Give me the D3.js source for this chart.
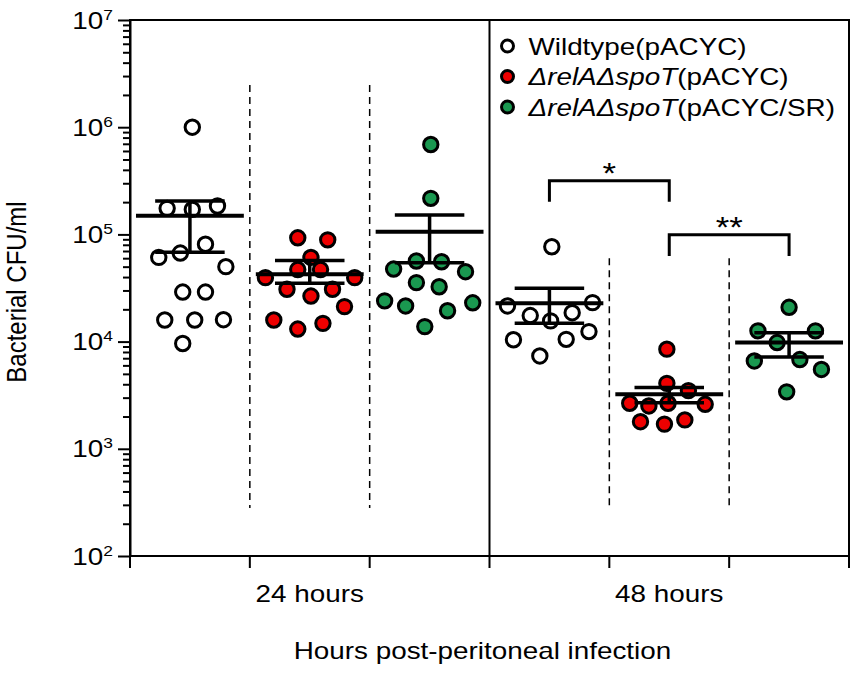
<!DOCTYPE html>
<html lang="en">
<head>
<meta charset="UTF-8">
<title>Bacterial CFU per group</title>
<script src="https://d3js.org/d3.v7.min.js"></script>
<style>
    body { margin: 0; background: #fff; }
    text { font-family: Arial, "Liberation Sans", sans-serif; fill: #000; }
</style>
</head>
<body>
<script>
    // groups along the x axis, two time points x three strains
    var groups = ["WT24", "DKO24", "SR24", "WT48", "DKO48", "SR48"];
    var timepoints = ["24 hours", "48 hours"];
    var groupStrain = [0, 1, 2, 0, 1, 2];
    var strainFill = ["#ffffff", "#ee0000", "#1a9850"];

    // legend labels, split in [text, italic] pieces
    var legendLabels = [
        [["Wildtype(pACYC)", false]],
        [["\u0394relA\u0394spoT", true], ["(pACYC)", false]],
        [["\u0394relA\u0394spoT", true], ["(pACYC/SR)", false]]
    ];

    // CFU/ml per animal; jitter = offset inside the group, as a share of its width
    var wt24 = [1.0e6, 1.75e5, 1.71e5, 1.84e5, 8.1e4, 6.1e4, 6.7e4, 5.0e4, 2.9e4, 2.9e4, 1.59e4, 1.59e4, 1.6e4, 9.6e3];
    var wt24Jitter = [0.02, -0.19, 0.02, 0.23, 0.13, -0.26, -0.08, 0.30, -0.06, 0.13, -0.21, 0.04, 0.28, -0.06];
    var dko24 = [9.3e4, 8.9e4, 6.1e4, 4.7e4, 4.7e4, 3.95e4, 3.95e4, 3.08e4, 3.08e4, 2.66e4, 2.12e4, 1.59e4, 1.48e4, 1.31e4];
    var dko24Jitter = [-0.10, 0.15, 0.01, -0.10, 0.09, -0.37, 0.375, -0.19, 0.19, 0.01, 0.29, -0.30, 0.11, -0.10];
    var sr24 = [6.9e5, 2.17e5, 5.65e4, 5.56e4, 4.75e4, 4.49e4, 3.55e4, 3.25e4, 2.4e4, 2.15e4, 2.3e4, 1.94e4, 1.38e4];
    var sr24Jitter = [0.01, 0.01, -0.11, 0.10, -0.30, 0.30, -0.11, 0.08, -0.375, -0.20, 0.36, 0.15, -0.04];
    var wt48 = [7.67e4, 2.15e4, 2.31e4, 1.75e4, 1.56e4, 1.86e4, 1.24e4, 1.04e4, 1.05e4, 7.35e3];
    var wt48Jitter = [0.02, -0.35, 0.36, -0.16, 0.01, 0.19, 0.33, -0.30, 0.14, -0.08];
    var dko48 = [8.5e3, 4.08e3, 3.49e3, 2.66e3, 2.66e3, 2.6e3, 2.51e3, 1.79e3, 1.70e3, 1.86e3];
    var dko48Jitter = [-0.02, -0.02, 0.16, -0.33, -0.01, 0.30, -0.17, -0.24, -0.04, 0.13];
    var sr48 = [2.09e4, 1.26e4, 1.26e4, 9.8e3, 6.6e3, 6.8e3, 5.5e3, 3.4e3];
    var sr48Jitter = [0.00, -0.26, 0.22, -0.10, -0.29, 0.09, 0.27, -0.02];

    // mean and SEM bar ends, as drawn
    var means   = [1.49e5, 4.25e4, 1.06e5, 2.28e4, 3.22e3, 9.8e3];
    var semHigh = [2.05e5, 5.7e4, 1.52e5, 3.14e4, 3.74e3, 1.21e4];
    var semLow  = [6.8e4, 3.5e4, 5.45e4, 1.48e4, 2.69e3, 7.2e3];

    // significance brackets: from group, to group, bar level, leg end, label
    var sigFrom = ["WT48", "DKO48"];
    var sigTo = ["DKO48", "SR48"];
    var sigLevel = [3.17e5, 9.9e4];
    var sigLegEnd = [2.02e5, 6.3e4];
    var sigLabel = ["*", "**"];

    // dashed separators between strains: top and bottom, in CFU/ml
    var sepAfter = ["WT24", "DKO24", "WT48", "DKO48"];
    var sepTop = [2.48e6, 2.48e6, 6.0e4, 6.0e4];
    var sepBottom = 280;

    var majorTicks = [1e2, 1e3, 1e4, 1e5, 1e6, 1e7];

    var values = [wt24, dko24, sr24, wt48, dko48, sr48];
    var jitters = [wt24Jitter, dko24Jitter, sr24Jitter, wt48Jitter, dko48Jitter, sr48Jitter];

    var margin = {top: 20, right: 2, bottom: 120, left: 130},
        width = 851 - margin.left - margin.right,
        height = 676 - margin.top - margin.bottom;
    var stretch = 1.16; // the figure's lettering is a bit wide

    var svg = d3.select("body").append("svg")
        .attr("width", 851)
        .attr("height", 676)
        .append("g")
        .attr("transform", "translate(" + margin.left + "," + margin.top + ")");

    var x = d3.scaleBand().domain(groups).range([0, width]);
    var xt = d3.scaleBand().domain(timepoints).range([0, width]);
    var y = d3.scaleLog().domain([1e2, 1e7]).range([height, 0]);
    var bw = x.bandwidth();

    function wideText(sel, tx, ty, anchor) {
        return sel.append("text")
            .attr("transform", "translate(" + tx + "," + ty + ") scale(" + stretch + ",1)")
            .attr("text-anchor", anchor || "start");
    }

    // frame
    svg.append("rect")
        .attr("width", width).attr("height", height)
        .attr("fill", "none").attr("stroke", "#000").attr("stroke-width", 2);

    // solid line between the time points
    svg.append("line")
        .attr("x1", xt("48 hours")).attr("x2", xt("48 hours"))
        .attr("y1", 0).attr("y2", height)
        .attr("stroke", "#000").attr("stroke-width", 2);

    // dashed separators
    svg.selectAll(".sep")
        .data(sepAfter)
        .enter().append("line")
        .attr("x1", function(d) { return x(d) + bw; })
        .attr("x2", function(d) { return x(d) + bw; })
        .attr("y1", function(d, i) { return y(sepTop[i]); })
        .attr("y2", y(sepBottom))
        .attr("stroke", "#000").attr("stroke-width", 1.5)
        .attr("stroke-dasharray", "7,5");

    // y axis: minor ticks, then majors with 10^n labels
    var minorTicks = [];
    for (var e = 2; e < 7; e++) {
        for (var k = 2; k < 10; k++) minorTicks.push(k * Math.pow(10, e));
    }
    svg.append("g")
        .call(d3.axisLeft(y).tickValues(minorTicks).tickSize(7).tickSizeOuter(0).tickFormat(""))
        .call(function(g) { g.select(".domain").remove(); })
        .selectAll("line").attr("stroke-width", 2);

    var yAxis = svg.append("g")
        .call(d3.axisLeft(y).tickValues(majorTicks).tickSize(12).tickSizeOuter(0).tickFormat(""));
    yAxis.select(".domain").attr("stroke-width", 2);
    yAxis.selectAll(".tick line").attr("stroke-width", 2);
    yAxis.selectAll(".tick text").remove();
    yAxis.selectAll(".tick").each(function(d) {
        var t = wideText(d3.select(this), -17, 8, "end").style("font-size", "24px");
        t.append("tspan").text("10");
        t.append("tspan").attr("dy", -9).style("font-size", "15px").text(Math.round(Math.log10(d)));
    });

    // x axis: ticks at the group edges, labels under each time point
    var edges = groups.map(function(g) { return x(g); }).concat([width]);
    svg.append("g")
        .attr("transform", "translate(0," + height + ")")
        .selectAll("line")
        .data(edges)
        .enter().append("line")
        .attr("x1", function(d) { return d; }).attr("x2", function(d) { return d; })
        .attr("y1", 0).attr("y2", 12)
        .attr("stroke", "#000").attr("stroke-width", 2);

    var xAxis = svg.append("g")
        .attr("transform", "translate(0," + height + ")")
        .call(d3.axisBottom(xt).tickSize(0));
    xAxis.select(".domain").remove();
    xAxis.selectAll(".tick text").remove();
    xAxis.selectAll(".tick").each(function(d) {
        wideText(d3.select(this), 0, 46, "middle").style("font-size", "24px").text(d);
    });

    // axis titles
    wideText(svg, width / 2 - 7, height + 103, "middle")
        .style("font-size", "24px")
        .text("Hours post-peritoneal infection");

    svg.append("text")
        .attr("transform", "translate(" + (26 - margin.left) + "," + (height / 2 + 4) + ") scale(" + stretch + ",1) rotate(-90)")
        .attr("text-anchor", "middle")
        .style("font-size", "24px")
        .text("Bacterial CFU/ml");

    // points
    groups.forEach(function(g, gi) {
        svg.append("g").selectAll("circle")
            .data(values[gi])
            .enter().append("circle")
            .attr("cx", function(d, i) { return x(g) + bw / 2 + jitters[gi][i] * bw; })
            .attr("cy", function(d) { return y(d); })
            .attr("r", 7.2)
            .attr("fill", strainFill[groupStrain[gi]])
            .attr("stroke", "#000")
            .attr("stroke-width", 3);
    });

    // mean and SEM
    var stats = svg.append("g").attr("stroke", "#000");
    groups.forEach(function(g, gi) {
        var cx = x(g) + bw / 2;
        stats.append("line")
            .attr("x1", cx).attr("x2", cx)
            .attr("y1", y(semHigh[gi])).attr("y2", y(semLow[gi]))
            .attr("stroke-width", 3.5);
        [semHigh[gi], semLow[gi]].forEach(function(v) {
            stats.append("line")
                .attr("x1", cx - bw * 0.29).attr("x2", cx + bw * 0.29)
                .attr("y1", y(v)).attr("y2", y(v))
                .attr("stroke-width", 3.5);
        });
        stats.append("line")
            .attr("x1", cx - bw * 0.45).attr("x2", cx + bw * 0.45)
            .attr("y1", y(means[gi])).attr("y2", y(means[gi]))
            .attr("stroke-width", 4);
    });

    // significance brackets
    sigFrom.forEach(function(a, i) {
        var xa = x(a) + bw / 2, xb = x(sigTo[i]) + bw / 2;
        svg.append("path")
            .attr("d", "M" + xa + "," + y(sigLegEnd[i]) + "V" + y(sigLevel[i]) +
                       "H" + xb + "V" + y(sigLegEnd[i]))
            .attr("fill", "none").attr("stroke", "#000").attr("stroke-width", 3);
        wideText(svg, (xa + xb) / 2, y(sigLevel[i]) + 2, "middle")
            .style("font-size", "30px")
            .text(sigLabel[i]);
    });

    // legend
    var legend = svg.append("g")
        .attr("transform", "translate(" + (xt("48 hours") + 18) + ",26)");
    legendLabels.forEach(function(parts, i) {
        var row = legend.append("g").attr("transform", "translate(0," + (i * 30.5) + ")");
        row.append("circle")
            .attr("r", 6).attr("fill", strainFill[i])
            .attr("stroke", "#000").attr("stroke-width", 3);
        var t = wideText(row, 21, 8.5).style("font-size", "24px");
        parts.forEach(function(p) {
            t.append("tspan").style("font-style", p[1] ? "italic" : "normal").text(p[0]);
        });
    });
</script>
</body>
</html>
